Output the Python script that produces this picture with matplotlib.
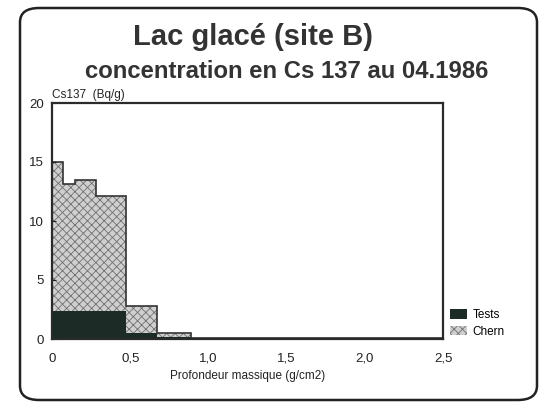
import matplotlib.pyplot as plt
from matplotlib.patches import FancyBboxPatch
import numpy as np

# Layer boundaries (mass depth, g/cm2) and Cs137 activity per layer (Bq/g)
depth_edges = [0.0, 0.07, 0.15, 0.28, 0.47, 0.67, 0.89, 2.5]
tests = [2.4, 2.4, 2.4, 2.4, 0.5, 0.15, 0.08]
chern = [12.6, 10.7, 11.1, 9.7, 2.3, 0.35, 0.04]

x_ticks = [0, 0.5, 1.0, 1.5, 2.0, 2.5]
x_tick_labels = ['0', '0,5', '1,0', '1,5', '2,0', '2,5']
y_ticks = [0, 5, 10, 15, 20]

plt.rcParams['font.family'] = ['Liberation Sans', 'DejaVu Sans']
plt.rcParams['hatch.color'] = '#707070'
plt.rcParams['hatch.linewidth'] = 0.6

fig = plt.figure(figsize=(5.51, 4.05), dpi=100)
ax = fig.add_axes([52 / 551, 1 - 339 / 405, (443 - 52) / 551, (339 - 103) / 405])

total = np.array(tests) + np.array(chern)
ax.stairs(total, depth_edges, fill=True, facecolor='#cfcfcf', edgecolor='#707070',
          hatch='xxxx', linewidth=0, label='Chern')
ax.stairs(tests, depth_edges, fill=True, color='#1c2b25', label='Tests')
ax.stairs(total, depth_edges, color='#333333', linewidth=1.2, baseline=None)

ax.set_xlim(0, 2.5)
ax.set_ylim(0, 20)
ax.set_xticks(x_ticks)
ax.set_xticklabels(x_tick_labels)
ax.set_yticks(y_ticks)
ax.tick_params(direction='in', length=3, labelsize=9.5, colors='#222222', pad=6)
ax.tick_params(axis='x', length=0, pad=10)
for spine in ax.spines.values():
    spine.set_linewidth(1.6)
    spine.set_color('#2a2a2a')

ax.set_xlabel('Profondeur massique (g/cm2)', fontsize=8.5, color='#222222', labelpad=4)
ax.text(0.0, 1.01, 'Cs137  (Bq/g)', transform=ax.transAxes, fontsize=8.5,
        color='#222222', ha='left', va='bottom')

fig.text(253 / 551, 1 - 37 / 405, 'Lac glacé (site B)', fontsize=21,
         fontweight='bold', color='#333333', ha='center', va='center')
fig.text(287 / 551, 1 - 72 / 405, 'concentration en Cs 137 au 04.1986', fontsize=17.2,
         fontweight='bold', color='#333333', ha='center', va='center')

handles, labels = ax.get_legend_handles_labels()
ax.legend(handles[::-1], labels[::-1], loc='lower left', bbox_to_anchor=(1.0, -0.025),
          frameon=False, fontsize=8.5, handlelength=1.4, handleheight=0.8,
          handletextpad=0.5, labelspacing=0.4, borderaxespad=0.2)

# rounded outer frame
frame = FancyBboxPatch((20 / 551, 5 / 405), (537 - 20) / 551, (397 - 5) / 405,
                       boxstyle='round,pad=0,rounding_size=0.035',
                       transform=fig.transFigure, fill=False,
                       edgecolor='#222222', linewidth=1.8)
fig.patches.append(frame)

plt.savefig('out.png', dpi=100)
plt.close()
